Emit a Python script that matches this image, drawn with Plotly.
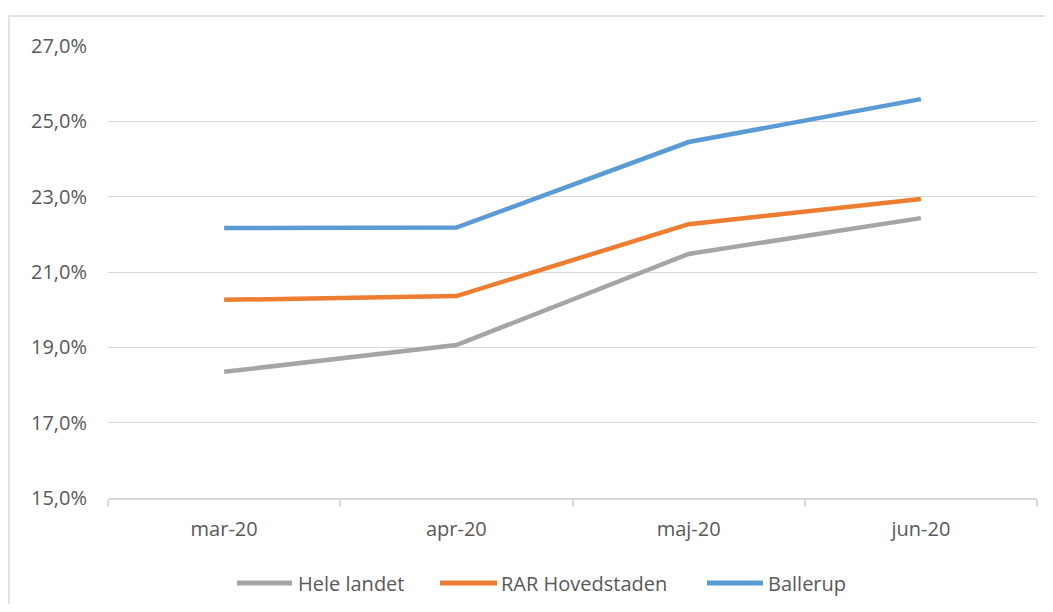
import plotly.graph_objects as go

months = ["mar-20", "apr-20", "maj-20", "jun-20"]
hele_landet = [18.35, 19.06, 21.48, 22.43]
rar_hovedstaden = [20.26, 20.36, 22.27, 22.94]
ballerup = [22.17, 22.18, 24.45, 25.59]
y_ticks = [15, 17, 19, 21, 23, 25, 27]
y_labels = ["15,0%", "17,0%", "19,0%", "21,0%", "23,0%", "25,0%", "27,0%"]

series = [
    ("Hele landet", hele_landet, "#a5a5a5"),
    ("RAR Hovedstaden", rar_hovedstaden, "#ed7d31"),
    ("Ballerup", ballerup, "#5b9bd5"),
]

# figure geometry (page body adds an 8px margin)
W, H = 1037, 596
L, R, T, B = 100, 8, 38, 106
PW, PH = W - L - R, H - T - B
OFF = 8


def px_x(px):
    return (px - OFF - L) / PW


def px_y(py):
    return 1 - (py - OFF - T) / PH


fig = go.Figure()
for name, vals, color in series:
    fig.add_trace(go.Scatter(x=months, y=vals, mode="lines", name=name,
                             line=dict(color=color, width=4.5), showlegend=False))

font = "Open Sans, Liberation Sans, sans-serif"
txt_col = "#595959"
grid_col = "#d9d9d9"

shapes = [dict(type="rect", xref="paper", yref="paper",
               x0=px_x(9), x1=px_x(1200), y0=px_y(800), y1=px_y(16),
               line=dict(color=grid_col, width=1.5), layer="below")]
annotations = []
# legend entries: (line start px, line end px, text start px)
legend_pos = [(237, 292, 296), (440, 497, 499), (707, 763, 766)]
leg_y = px_y(583)
for (name, _, color), (x0, x1, xt) in zip(series, legend_pos):
    shapes.append(dict(type="line", xref="paper", yref="paper",
                       x0=px_x(x0), x1=px_x(x1), y0=leg_y, y1=leg_y,
                       line=dict(color=color, width=5)))
    annotations.append(dict(text=name, xref="paper", yref="paper",
                            x=px_x(xt), y=leg_y, xanchor="left", yanchor="middle",
                            showarrow=False, font=dict(size=20, color=txt_col, family=font)))

fig.update_layout(
    width=W, height=H,
    margin=dict(l=L, r=R, t=T, b=B),
    paper_bgcolor="white", plot_bgcolor="white",
    font=dict(family=font, size=20, color=txt_col),
    showlegend=False,
    xaxis=dict(type="category", range=[-0.5, 3.5], showgrid=False,
               showline=True, linecolor=grid_col, linewidth=1.5,
               ticks="outside", tickson="boundaries", ticklen=7, tickcolor=grid_col,
               tickwidth=1.5, ticklabelstandoff=12,
               tickfont=dict(size=20, color=txt_col), zeroline=False),
    yaxis=dict(range=[15, 27], tickvals=y_ticks, ticktext=y_labels,
               showgrid=True, gridcolor=grid_col, gridwidth=1.2,
               showline=False, zeroline=False, ticks="", ticklabelstandoff=20,
               tickfont=dict(size=20, color=txt_col)),
    shapes=shapes,
    annotations=annotations,
)

fig.write_html("out.html")
